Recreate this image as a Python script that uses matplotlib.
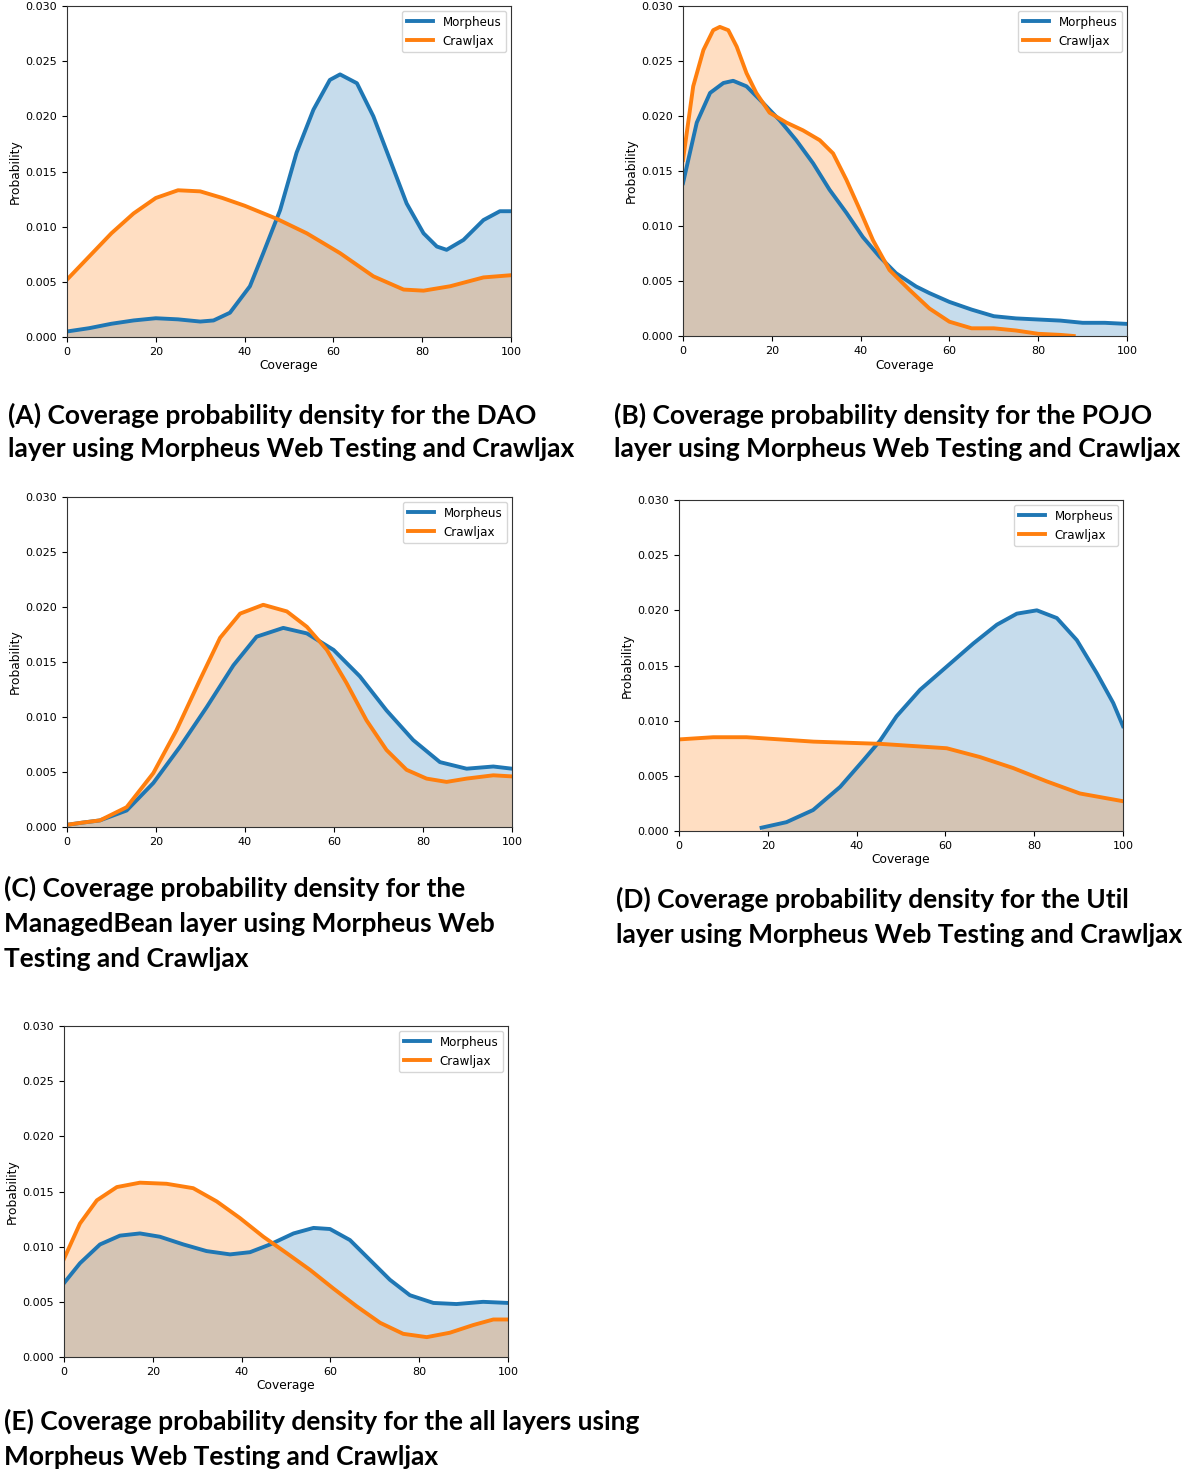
import matplotlib.pyplot as plt
import numpy as np

# 每条曲线：覆盖率读数点 + 概率密度读数
# (A) DAO
a_x_m = [0, 5, 10, 15, 20, 25, 30, 33, 36.7, 41.2, 44.2, 48.0, 51.7, 55.5, 59.2, 61.5, 65.3, 69.0,
         72.8, 76.5, 80.3, 83.3, 85.5, 89.3, 93.8, 97.5, 100]
a_morph = [0.0005, 0.0008, 0.0012, 0.0015, 0.0017, 0.0016, 0.0014, 0.0015, 0.0022, 0.0046, 0.0076,
           0.0115, 0.0167, 0.0206, 0.0233, 0.0238, 0.0230, 0.0200, 0.0160, 0.0121, 0.0094, 0.0082,
           0.0079, 0.0088, 0.0106, 0.0114, 0.0114]
a_x_c = [0, 5, 10, 15, 20, 25, 30, 35, 40, 47.3, 54.0, 61.5, 69.0, 75.8, 80.3, 86.3, 93.8, 100]
a_crawl = [0.0052, 0.0073, 0.0094, 0.0112, 0.0126, 0.0133, 0.0132, 0.0126, 0.0119, 0.0107, 0.0094,
           0.0076, 0.0055, 0.0043, 0.0042, 0.0046, 0.0054, 0.0056]

# (B) POJO
b_x_m = [0, 3.1, 6.1, 9.1, 11.3, 14.3, 18.0, 21.8, 25.5, 29.3, 33.0, 36.8, 40.5, 44.3, 48.0, 52.5,
         55.5, 60, 65, 70, 75, 80, 85, 90, 95, 100]
b_morph = [0.0139, 0.0194, 0.0221, 0.0230, 0.0232, 0.0227, 0.0212, 0.0196, 0.0178, 0.0157, 0.0133,
           0.0112, 0.0090, 0.0072, 0.0057, 0.0045, 0.0039, 0.0031, 0.0024, 0.0018, 0.0016, 0.0015,
           0.0014, 0.0012, 0.0012, 0.0011]
b_x_c = [0, 2.3, 4.6, 6.8, 8.3, 10.2, 12.1, 14.3, 16.5, 19.5, 23.3, 27.0, 30.8, 33.8, 36.8, 39.8,
         42.8, 46.5, 51.0, 55.5, 60, 65, 70, 75, 80, 85, 88]
b_crawl = [0.0160, 0.0227, 0.0260, 0.0278, 0.0281, 0.0278, 0.0263, 0.0239, 0.0221, 0.0203, 0.0194,
           0.0187, 0.0178, 0.0166, 0.0142, 0.0115, 0.0087, 0.0060, 0.0042, 0.0025, 0.0013, 0.0007,
           0.0007, 0.0005, 0.0002, 0.0001, 0.0000]

# (C) ManagedBean
c_x_m = [0, 3.5, 7.4, 13.4, 19.4, 25.4, 31.4, 37.4, 42.6, 48.6, 53.9, 59.9, 65.8, 71.8, 77.8, 83.8,
         89.8, 95.8, 100]
c_morph = [0.0002, 0.0004, 0.0006, 0.0015, 0.0040, 0.0073, 0.0109, 0.0147, 0.0173, 0.0181, 0.0176,
           0.0161, 0.0137, 0.0106, 0.0079, 0.0059, 0.0053, 0.0055, 0.0053]
c_x_c = [0, 3.5, 7.4, 13.4, 19.4, 24.6, 29.9, 34.4, 38.9, 44.1, 49.4, 53.9, 58.4, 62.8, 67.3, 71.8,
         76.3, 80.8, 85.3, 89.8, 95.8, 100]
c_crawl = [0.0002, 0.0004, 0.0006, 0.0018, 0.0049, 0.0088, 0.0134, 0.0172, 0.0194, 0.0202, 0.0196,
           0.0182, 0.0161, 0.0131, 0.0097, 0.0070, 0.0052, 0.0044, 0.0041, 0.0044, 0.0047, 0.0046]

# (D) Util
d_x_m = [18.6, 24.2, 30.2, 36.3, 41.5, 45.3, 49.0, 54.3, 60.3, 66.3, 71.6, 76.1, 80.6, 85.1, 89.6,
         94.1, 97.8, 100]
d_morph = [0.0003, 0.0008, 0.0019, 0.0040, 0.0064, 0.0082, 0.0104, 0.0128, 0.0149, 0.0170, 0.0187,
           0.0197, 0.0200, 0.0193, 0.0173, 0.0143, 0.0116, 0.0095]
d_x_c = [0, 7.7, 15.2, 22.8, 30.3, 37.8, 45.3, 52.8, 60.3, 67.8, 75.3, 82.8, 90.3, 100]
d_crawl = [0.0083, 0.0085, 0.0085, 0.0083, 0.0081, 0.0080, 0.0079, 0.0077, 0.0075, 0.0067, 0.0057,
           0.0045, 0.0034, 0.0027]

# (E) all layers
e_x_m = [0, 3.6, 8.1, 12.6, 17.1, 21.6, 26.9, 32.1, 37.4, 41.9, 46.4, 51.7, 56.2, 59.9, 64.4, 68.9,
         73.4, 77.9, 83.2, 88.4, 94.4, 100]
e_morph = [0.0067, 0.0085, 0.0102, 0.0110, 0.0112, 0.0109, 0.0102, 0.0096, 0.0093, 0.0095, 0.0102,
           0.0112, 0.0117, 0.0116, 0.0106, 0.0088, 0.0070, 0.0056, 0.0049, 0.0048, 0.0050, 0.0049]
e_x_c = [0, 3.6, 7.4, 11.9, 17.1, 23.1, 29.1, 34.4, 39.6, 44.9, 50.2, 55.4, 60.7, 65.9, 71.2, 76.4,
         81.7, 86.9, 92.2, 96.7, 100]
e_crawl = [0.0089, 0.0121, 0.0142, 0.0154, 0.0158, 0.0157, 0.0153, 0.0141, 0.0126, 0.0109, 0.0094,
           0.0079, 0.0062, 0.0046, 0.0031, 0.0021, 0.0018, 0.0022, 0.0029, 0.0034, 0.0034]

captions = {
    'A': ['(A) Coverage probability density for the DAO',
          'layer using Morpheus Web Testing and Crawljax'],
    'B': ['(B) Coverage probability density for the POJO',
          'layer using Morpheus Web Testing and Crawljax'],
    'C': ['(C) Coverage probability density for the',
          'ManagedBean layer using Morpheus Web',
          'Testing and Crawljax'],
    'D': ['(D) Coverage probability density for the Util',
          'layer using Morpheus Web Testing and Crawljax'],
    'E': ['(E) Coverage probability density for the all layers using',
          'Morpheus Web Testing and Crawljax'],
}

W, H = 1191, 1473
fig = plt.figure(figsize=(W / 100, H / 100), dpi=100)


def px_axes(l, t, r, b):
    return fig.add_axes([l / W, 1 - b / H, (r - l) / W, (b - t) / H])


def draw(ax, xm, ym, xc, yc, xlabel=True):
    ax.plot(xm, ym, color='#1f77b4', lw=2.8, label='Morpheus')
    ax.fill_between(xm, ym, color='#1f77b4', alpha=0.25, lw=0)
    ax.plot(xc, yc, color='#ff7f0e', lw=2.8, label='Crawljax')
    ax.fill_between(xc, yc, color='#ff7f0e', alpha=0.25, lw=0)
    ax.set_xlim(0, 100)
    ax.set_ylim(0, 0.030)
    ax.set_xticks([0, 20, 40, 60, 80, 100])
    ax.set_yticks(np.arange(0, 0.0301, 0.005))
    ax.yaxis.set_major_formatter(plt.FormatStrFormatter('%.3f'))
    ax.tick_params(labelsize=8, length=3.5)
    ax.set_ylabel('Probability', fontsize=8.8, labelpad=3)
    if xlabel:
        ax.set_xlabel('Coverage', fontsize=8.8, labelpad=2)
    ax.legend(loc='upper right', fontsize=8.6, handlelength=2.2, borderaxespad=0.4)
    for s in ax.spines.values():
        s.set_color('#333333')


axA = px_axes(67, 6, 511, 337)
draw(axA, a_x_m, a_morph, a_x_c, a_crawl)
axB = px_axes(683, 6, 1127, 336)
draw(axB, b_x_m, b_morph, b_x_c, b_crawl)
axC = px_axes(67, 497, 512, 827)
draw(axC, c_x_m, c_morph, c_x_c, c_crawl, xlabel=False)
axD = px_axes(679, 500, 1123, 831)
draw(axD, d_x_m, d_morph, d_x_c, d_crawl)
axE = px_axes(64, 1026, 508, 1357)
draw(axE, e_x_m, e_morph, e_x_c, e_crawl)

# 图注（每行的基线像素位置）
cap_pos = {'A': (8, [424, 457]), 'B': (614, [424, 457]),
           'C': (4, [897, 932, 967]), 'D': (616, [908, 943]),
           'E': (4, [1430, 1465])}
for k, (x0, ys) in cap_pos.items():
    for line, y in zip(captions[k], ys):
        fig.text(x0 / W, 1 - y / H, line, fontsize=19, fontweight='bold',
                 family='Lato', va='baseline', ha='left')

fig.savefig('out.png', dpi=100)
